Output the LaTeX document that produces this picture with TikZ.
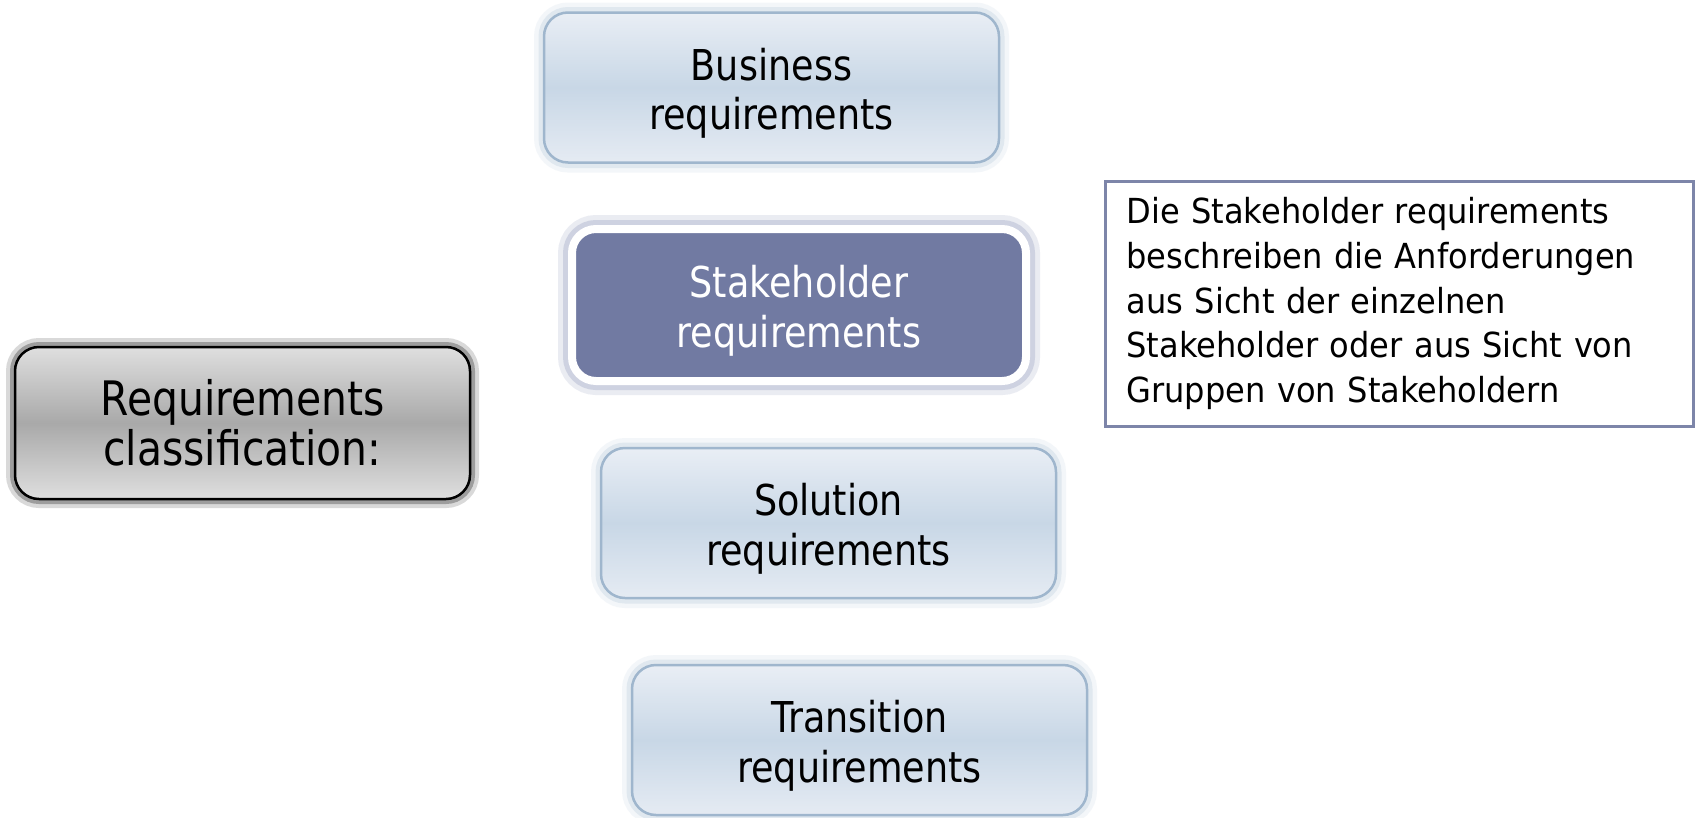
\documentclass[tikz,border=0pt]{standalone}
\usepackage{fontspec}
\setmainfont{DejaVu Sans}[FakeStretch=0.86]
\newfontfamily\notefont{DejaVu Sans}[FakeStretch=0.93]
\definecolor{ltop}{HTML}{E9EEF5}
\definecolor{lmid}{HTML}{C8D7E6}
\definecolor{lbot}{HTML}{E5EBF3}
\definecolor{lborder}{HTML}{9FB6CD}
\definecolor{lglow}{HTML}{B5C8DA}
\definecolor{shfill}{HTML}{717AA2}
\definecolor{shglow}{HTML}{9AA2C2}
\definecolor{gtop}{HTML}{DFDFDF}
\definecolor{gmid}{HTML}{A9A9A9}
\definecolor{gglow}{HTML}{444444}
\definecolor{notebd}{HTML}{7D85A9}
\newcommand{\topfix}{\rule{0pt}{44pt}}
\tikzset{
  lightbox/.style={rectangle, rounded corners=24pt, draw=lborder, line width=2.5pt,
    top color=ltop, bottom color=lbot, middle color=lmid,
    preaction={draw=lglow, line width=20pt, opacity=0.15},
    preaction={draw=lglow, line width=11pt, opacity=0.3},
    minimum width=455pt, minimum height=150pt, align=center,
    font=\fontsize{42.5}{49.5}\selectfont, text=black, inner sep=0pt},
  selbox/.style={rectangle, rounded corners=24pt, draw=white, line width=8pt,
    fill=shfill,
    preaction={draw=shglow, line width=28pt, opacity=0.2},
    preaction={draw=shglow, line width=18pt, opacity=0.35},
    minimum width=454pt, minimum height=152pt, align=center,
    font=\fontsize{42.5}{49.5}\selectfont, text=white, inner sep=0pt},
  classbox/.style={rectangle, rounded corners=24pt, draw=black, line width=2.5pt,
    top color=gtop, bottom color=gtop, middle color=gmid,
    preaction={draw=gglow, line width=18pt, opacity=0.2},
    preaction={draw=gglow, line width=10pt, opacity=0.4},
    minimum width=455pt, minimum height=152pt, align=center,
    font=\fontsize{47.5}{50.5}\selectfont, text=black, inner sep=0pt},
  notebox/.style={rectangle, draw=notebd, line width=3pt, fill=white,
    minimum width=588pt, minimum height=245pt, text width=546pt, align=left,
    font=\notefont\fontsize{34.5}{44.8}\selectfont, text=black, inner xsep=21pt, inner ysep=0pt}
}
\begin{document}
\begin{tikzpicture}[x=1pt,y=-1pt]
\useasboundingbox[fill=white] (0,0) rectangle (1696,817);
\node[lightbox] (bus) at (771.5,87.5) {\topfix Business\\requirements};
\node[selbox] (stk) at (799,305) {\topfix Stakeholder\\requirements};
\node[lightbox] (sol) at (828.5,523) {\topfix Solution\\requirements};
\node[lightbox] (tra) at (859.5,740) {\topfix Transition\\requirements};
\node[classbox] (cls) at (242.5,423) {Requirements\\classification:};
\node[notebox] (note) at (1399.5,303.5) {Die Stakeholder requirements\\beschreiben die Anforderungen\\aus Sicht der einzelnen\\Stakeholder oder aus Sicht von\\Gruppen von Stakeholdern};
\end{tikzpicture}
\end{document}
